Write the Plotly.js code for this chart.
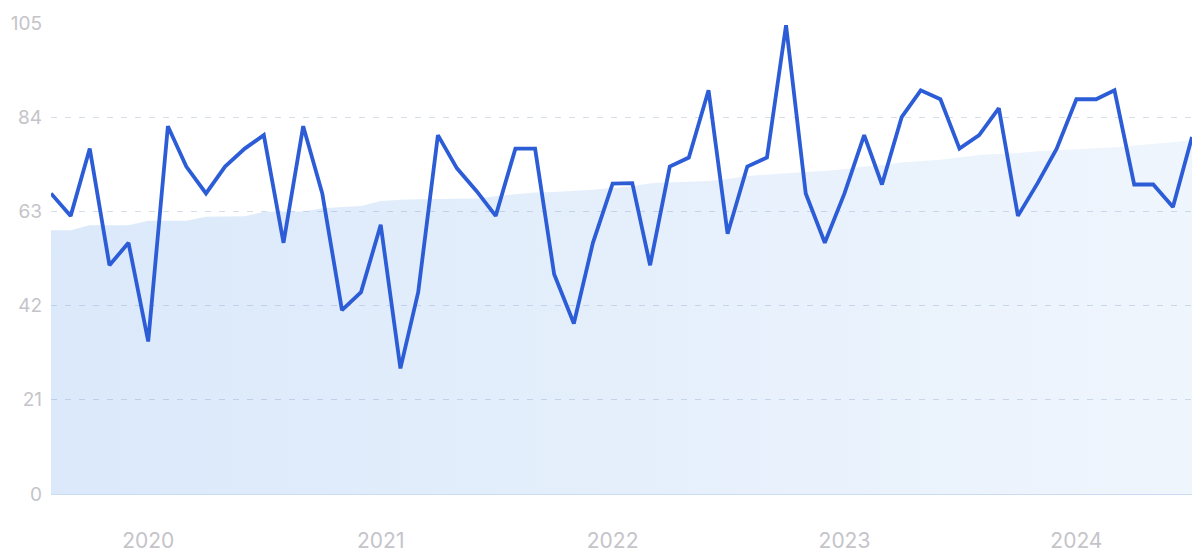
<!DOCTYPE html>
<html>
<head>
<meta charset="utf-8">
<script src="https://cdn.plot.ly/plotly-3.0.1.min.js"></script>
<style>
html,body{margin:0;padding:0;background:#fff;}
#chart{width:1200px;height:556px;}
</style>
</head>
<body>
<div id="chart"></div>
<script>
// Monthly dates Aug 2019 .. Jul 2024
const months = [
"2019-08-01","2019-09-01","2019-10-01","2019-11-01","2019-12-01",
"2020-01-01","2020-02-01","2020-03-01","2020-04-01","2020-05-01","2020-06-01","2020-07-01","2020-08-01","2020-09-01","2020-10-01","2020-11-01","2020-12-01",
"2021-01-01","2021-02-01","2021-03-01","2021-04-01","2021-05-01","2021-06-01","2021-07-01","2021-08-01","2021-09-01","2021-10-01","2021-11-01","2021-12-01",
"2022-01-01","2022-02-01","2022-03-01","2022-04-01","2022-05-01","2022-06-01","2022-07-01","2022-08-01","2022-09-01","2022-10-01","2022-11-01","2022-12-01",
"2023-01-01","2023-02-01","2023-03-01","2023-04-01","2023-05-01","2023-06-01","2023-07-01","2023-08-01","2023-09-01","2023-10-01","2023-11-01","2023-12-01",
"2024-01-01","2024-02-01","2024-03-01","2024-04-01","2024-05-01","2024-06-01","2024-07-01"
];

// Search interest (main line)
const interest = [
67, 62, 77, 51, 56,
34, 82, 73, 67, 73, 77, 80, 56, 82, 67, 41, 45,
60, 28, 45, 80, 72.6, 67.5, 62, 77, 77, 49, 38, 56,
69.2, 69.3, 51, 73, 75, 90, 58, 73, 75, 104.5, 67, 56,
67, 80, 69, 84, 90, 88, 77, 80, 86, 62, 69.3, 77,
88, 88, 90, 69, 69, 64, 79.6
];

// Trend (filled area)
const trend = [
58.8, 58.8, 59.9, 59.9, 59.9,
60.9, 60.9, 60.9, 61.8, 61.8, 61.9, 62.9, 62.9, 63.0, 63.7, 64.0, 64.2,
65.3, 65.6, 65.7, 65.8, 65.8, 65.9, 66.4, 66.8, 67.2, 67.3, 67.5, 67.8,
68.2, 68.6, 69.3, 69.4, 69.6, 69.8, 70.2, 70.9, 71.2, 71.6, 71.8, 72.0,
72.4, 73.0, 73.3, 73.9, 74.2, 74.5, 75.0, 75.6, 75.8, 76.0, 76.4, 76.6,
76.8, 77.1, 77.3, 77.7, 78.0, 78.4, 78.9
];

const yTicks = [0, 21, 42, 63, 84, 105];
const xTickVals = ["2020-01-01","2021-01-01","2022-01-01","2023-01-01","2024-01-01"];
const xTickText = ["2020","2021","2022","2023","2024"];

const traces = [
  {
    x: months, y: trend, type: 'scatter', mode: 'lines',
    line: {width: 0, color: 'rgba(0,0,0,0)'},
    fill: 'tozeroy',
    fillgradient: {type: 'horizontal', colorscale: [[0, 'rgba(100,160,235,0.235)'], [1, 'rgba(100,160,235,0.10)']]},
    hoverinfo: 'skip', showlegend: false
  },
  {
    x: months, y: interest, type: 'scatter', mode: 'lines',
    line: {color: '#2c5dd6', width: 3.8, shape: 'linear'},
    showlegend: false, cliponaxis: false
  }
];

const layout = {
  width: 1200, height: 556,
  margin: {l: 51, r: 8, t: 23, b: 62},
  paper_bgcolor: '#ffffff', plot_bgcolor: '#ffffff',
  font: {family: 'Inter, "Open Sans", sans-serif', color: '#c4c4ca'},
  xaxis: {
    type: 'date',
    range: [months[0], months[months.length - 1]],
    tickmode: 'array', tickvals: xTickVals, ticktext: xTickText,
    showgrid: false, zeroline: false,
    showline: true, linecolor: '#cadcf1', linewidth: 1,
    ticks: '', ticklabelstandoff: 28,
    tickfont: {size: 21, color: '#c4c4ca'}
  },
  yaxis: {
    range: [0, 105],
    tickmode: 'array', tickvals: yTicks,
    showgrid: true, gridcolor: '#d6deea', griddash: '6px,8px', gridwidth: 1,
    zeroline: false, showline: false, ticks: '', ticklabelstandoff: 8,
    tickfont: {size: 19, color: '#c4c4ca'}
  },
  hovermode: false
};

Plotly.newPlot('chart', traces, layout, {displayModeBar: false, staticPlot: true});
</script>
</body>
</html>
